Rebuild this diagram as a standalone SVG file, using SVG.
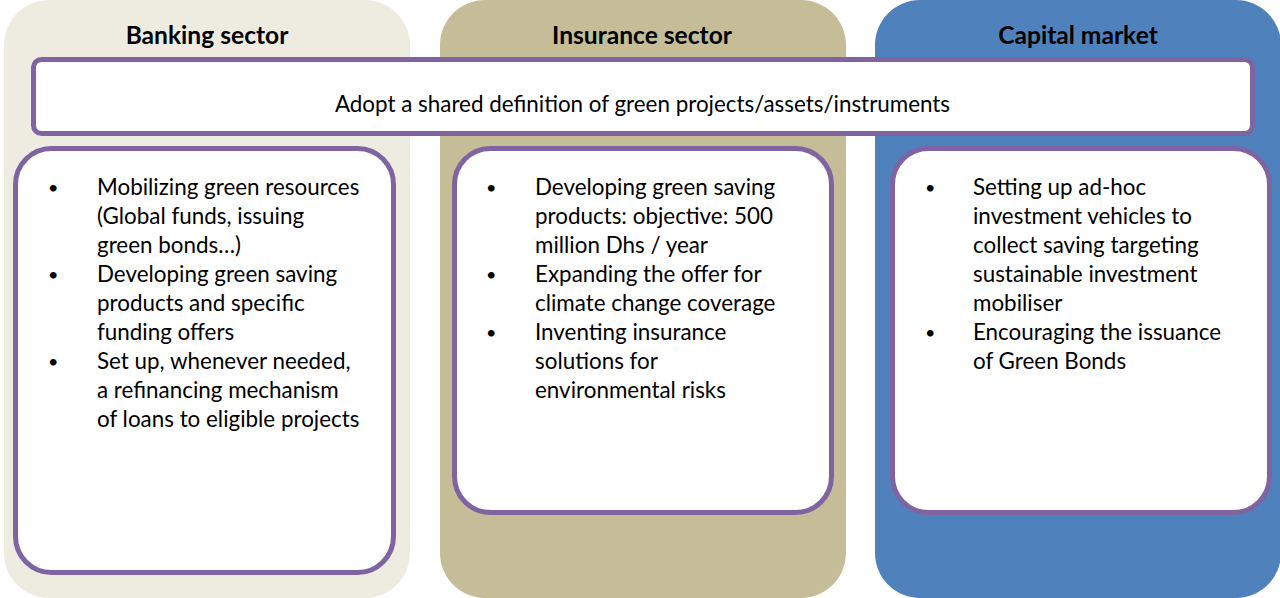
<svg xmlns="http://www.w3.org/2000/svg" width="1280" height="598" viewBox="0 0 1280 598">
  <style>
    .col { stroke: none; }
    .card { fill: #FFFFFF; stroke: #8064A2; stroke-width: 5; }
    .head { font-family: Lato, "Open Sans", "Liberation Sans", sans-serif; font-weight: bold; font-size: 24.6px; fill: #000000; text-anchor: middle; }
    .body { font-family: Lato, "Open Sans", "Liberation Sans", sans-serif; font-size: 22.4px; fill: #000000; }
    .dot { font-family: Lato, "Open Sans", "Liberation Sans", sans-serif; font-size: 18px; fill: #000000; }
  </style>

  <!-- sector columns -->
  <g id="banking">
    <rect class="col" x="4" y="0" width="406" height="598" rx="45" fill="#EEECE1"/>
    <text class="head" x="207" y="44">Banking sector</text>
  </g>
  <g id="insurance">
    <rect class="col" x="440" y="0" width="406" height="598" rx="45" fill="#C4BD97"/>
    <text class="head" x="642" y="44">Insurance sector</text>
  </g>
  <g id="capital">
    <rect class="col" x="875" y="0" width="406" height="598" rx="45" fill="#4F81BD"/>
    <text class="head" x="1078" y="44">Capital market</text>
  </g>

  <!-- shared banner across all sectors -->
  <g id="shared-definition">
    <rect class="card" x="33.5" y="59.5" width="1219" height="74" rx="8"/>
    <text class="body" x="642.5" y="112" text-anchor="middle">Adopt a shared definition of green projects/assets/instruments</text>
  </g>

  <!-- banking actions -->
  <g id="banking-actions">
    <rect class="card" x="15.5" y="148.5" width="378" height="424" rx="36"/>
    <g class="dot">
      <text x="48" y="194">•</text>
      <text x="48" y="281">•</text>
      <text x="48" y="368">•</text>
    </g>
    <g class="body">
      <text x="97" y="195">Mobilizing green resources</text>
      <text x="97" y="224">(Global funds, issuing</text>
      <text x="97" y="253">green bonds…)</text>
      <text x="97" y="282">Developing green saving</text>
      <text x="97" y="311">products and specific</text>
      <text x="97" y="340">funding offers</text>
      <text x="97" y="369">Set up, whenever needed,</text>
      <text x="97" y="398">a refinancing mechanism</text>
      <text x="97" y="427">of loans to eligible projects</text>
    </g>
  </g>

  <!-- insurance actions -->
  <g id="insurance-actions">
    <rect class="card" x="454.5" y="148.5" width="377" height="364" rx="36"/>
    <g class="dot">
      <text x="486" y="194">•</text>
      <text x="486" y="281">•</text>
      <text x="486" y="339">•</text>
    </g>
    <g class="body">
      <text x="535" y="195">Developing green saving</text>
      <text x="535" y="224">products: objective: 500</text>
      <text x="535" y="253">million Dhs / year</text>
      <text x="535" y="282">Expanding the offer for</text>
      <text x="535" y="311">climate change coverage</text>
      <text x="535" y="340">Inventing insurance</text>
      <text x="535" y="369">solutions for</text>
      <text x="535" y="398">environmental risks</text>
    </g>
  </g>

  <!-- capital market actions -->
  <g id="capital-actions">
    <rect class="card" x="892.5" y="148.5" width="377" height="364" rx="36"/>
    <g class="dot">
      <text x="925" y="194">•</text>
      <text x="925" y="339">•</text>
    </g>
    <g class="body">
      <text x="973" y="195">Setting up ad-hoc</text>
      <text x="973" y="224">investment vehicles to</text>
      <text x="973" y="253">collect saving targeting</text>
      <text x="973" y="282">sustainable investment</text>
      <text x="973" y="311">mobiliser</text>
      <text x="973" y="340">Encouraging the issuance</text>
      <text x="973" y="369">of Green Bonds</text>
    </g>
  </g>

  <!-- no connectors in this layout -->
  <g id="connectors"/>
</svg>
